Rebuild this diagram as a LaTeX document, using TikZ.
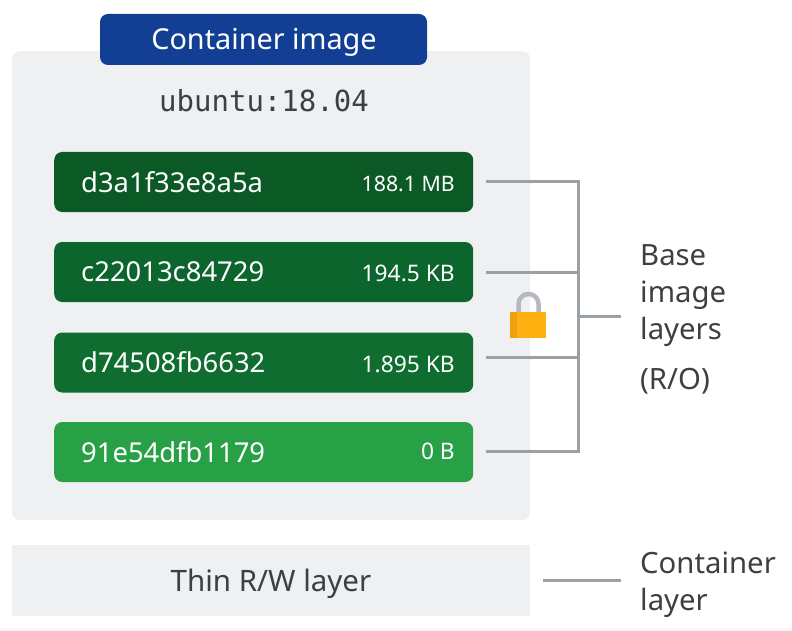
\documentclass[tikz,border=0pt]{standalone}
\usepackage{fontspec}
\setmainfont{Noto Sans}
\setmonofont{DejaVu Sans Mono}
\usetikzlibrary{positioning}
\definecolor{panelgray}{HTML}{EEF0F2}
\definecolor{titleblue}{HTML}{123E94}
\definecolor{inkgray}{HTML}{3C4043}
\definecolor{wiregray}{HTML}{9AA0A6}
\definecolor{layerA}{HTML}{0B5A25}
\definecolor{layerB}{HTML}{0C652C}
\definecolor{layerC}{HTML}{0F6D30}
\definecolor{layerD}{HTML}{28A046}
\definecolor{lockgold}{HTML}{FDB010}
\definecolor{lockdark}{HTML}{EFA00F}
\definecolor{lockgray}{HTML}{B4B8BF}
\tikzset{
	panel/.style={fill=panelgray,anchor=north west,inner sep=0pt},
	layerbox/.style={rounded corners=8pt,minimum width=419pt,minimum height=60pt,inner sep=0pt,anchor=west},
	layerid/.style={text=white,anchor=west,inner sep=0pt,font=\fontsize{27.4}{27.4}\selectfont},
	layersize/.style={text=white,anchor=east,inner sep=0pt,font=\fontsize{22.8}{22.8}\selectfont},
	sidelabel/.style={text=inkgray,anchor=west,align=left,inner sep=0pt,font=\fontsize{29.3}{37}\selectfont},
	wire/.style={draw=wiregray,line width=3pt}
}
\begin{document}
\begin{tikzpicture}[x=1pt,y=-1pt]
	\useasboundingbox (0,0) rectangle (792,631);
	\fill[white] (0,0) rectangle (792,631);
	\fill[black!3] (0,628) rectangle (792,631);
	% panels
	\node[panel,rounded corners=8pt,minimum width=518pt,minimum height=469pt] (imagepanel) at (12,51) {};
	\node[panel,minimum width=518pt,minimum height=71pt] (thinpanel) at (12,545) {};
	\node[fill=titleblue,rounded corners=8pt,minimum width=327pt,minimum height=51pt,inner sep=0pt] (title) at (263.5,39.5) {};
	\node[text=white,inner sep=0pt,font=\fontsize{28.8}{28.8}\selectfont] (titletext) at (264,42) {Container image};
	\node[text=inkgray,inner sep=0pt,font=\ttfamily\fontsize{29}{29}\selectfont] (tagname) at (264,101) {ubuntu:18.04};
	\node[text=inkgray,inner sep=0pt,font=\fontsize{29.5}{29.5}\selectfont] (thinname) at (271,584) {Thin R/W layer};
	% layers
	\node[layerbox,fill=layerA] (boxa) at (54,182) {};
	\node[layerbox,fill=layerB] (boxb) at (54,272) {};
	\node[layerbox,fill=layerC] (boxc) at (54,362.5) {};
	\node[layerbox,fill=layerD] (boxd) at (54,452) {};
	\node[layerid] (ida) at (81,182) {d3a1f33e8a5a};
	\node[layerid] (idb) at (81,272) {c22013c84729};
	\node[layerid] (idc) at (81,362.5) {d74508fb6632};
	\node[layerid] (idd) at (81,452) {91e54dfb1179};
	\node[layersize,font=\fontsize{21.3}{21.3}\selectfont] (sizea) at (455,184) {188.1 MB};
	\node[layersize] (sizeb) at (455,273) {194.5 KB};
	\node[layersize] (sizec) at (455,364) {1.895 KB};
	\node[layersize] (sized) at (455,451) {0 B};
	% lock
	\draw[lockgray,line width=4.5pt] (518.5,314)--(518.5,304) arc (180:360:10)--(538.5,314);
	\fill[lockgold] (510,312) rectangle (546,338);
	\fill[lockdark] (510,312) rectangle (517,338);
	% labels
	\node[sidelabel] (baselabel) at (640,296) {Base\\image\\layers};
	\node[sidelabel] (rolabel) at (640,381) {(R/O)};
	\node[sidelabel] (containerlabel) at (640,585) {Container\\layer};
	% bracket
	\coordinate (taila) at (486,182);
	\coordinate (tailb) at (486,272);
	\coordinate (tailc) at (486,357);
	\coordinate (taild) at (486,451);
	\coordinate (heada) at (578,182);
	\coordinate (headb) at (578,272);
	\coordinate (headc) at (578,357);
	\coordinate (headd) at (578,451);
	\coordinate (headm) at (578,316);
	\coordinate (stemend) at (621,316);
	\coordinate (thintail) at (543,580);
	\coordinate (thinhead) at (621,580);
	\draw[wire] (taila)--(heada)--(headd)--(taild);
	\draw[wire] (tailb)--(headb);
	\draw[wire] (tailc)--(headc);
	\draw[wire] (headm)--(stemend);
	\draw[wire] (thintail)--(thinhead);
\end{tikzpicture}
\end{document}
